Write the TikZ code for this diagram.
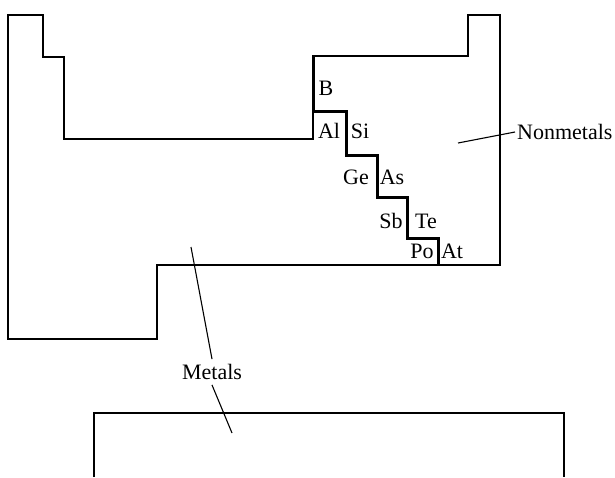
\documentclass[tikz,border=0pt]{standalone}
\usepackage{fontspec}
\setmainfont{Liberation Serif}
\begin{document}
\begin{tikzpicture}[x=1pt, y=-1pt,
  edge/.style={line width=1.4pt, line join=miter},
  stair/.style={line width=3pt, line join=miter},
  lbl/.style={font=\fontsize{22}{26}\selectfont, inner sep=0pt},
  lead/.style={line width=1.1pt}
]
  \useasboundingbox (0,0) rectangle (615,477);
  % outline of the table
  \draw[edge] (8,15) -- (43,15) -- (43,57) -- (64,57) -- (64,139) -- (313,139) -- (313,56)
    -- (468,56) -- (468,15) -- (500,15) -- (500,265) -- (157,265) -- (157,339) -- (8,339) -- cycle;
  % staircase
  \draw[stair] (313,56) -- (313,111) -- (346,111) -- (346,155) -- (377,155) -- (377,197)
    -- (407,197) -- (407,238) -- (438,238) -- (438,265);
  % lower block
  \draw[edge] (94,477) -- (94,413) -- (564,413) -- (564,477);
  % elements
  \foreach \el/\x/\y in {B/326/88, Al/329/131, Si/360/131, Ge/356/177, As/392/177,
    Sb/391/221, Te/426/221, Po/422/251, At/452/251}
    {\node[lbl] (\el) at (\x,\y) {\el};}
  % Nonmetals
  \node[lbl, anchor=west, inner xsep=2pt] (nonmet) at (515,132) {Nonmetals};
  \coordinate (nm) at (458,143);
  \draw[lead] (nm) -- (nonmet.west);
  % Metals
  \node[lbl, inner ysep=5pt] (met) at (212,372) {Metals};
  \coordinate (m1) at (191,247);
  \coordinate (m2) at (232,433);
  \draw[lead] (m1) -- (met.north);
  \draw[lead] (met.south) -- (m2);
\end{tikzpicture}
\end{document}
